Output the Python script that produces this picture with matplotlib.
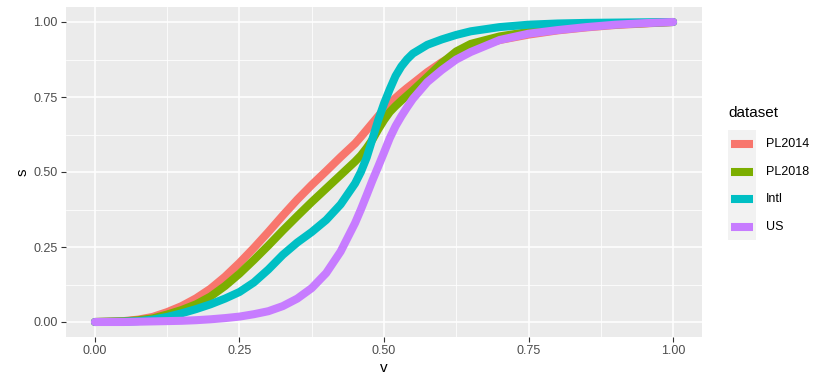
import numpy as np
import matplotlib.pyplot as plt
from matplotlib.lines import Line2D
from matplotlib.patches import Rectangle

plt.rcParams['font.family'] = ['Liberation Sans', 'DejaVu Sans']

# values
v = [0, 0.05, 0.075, 0.1, 0.125, 0.15, 0.175, 0.2, 0.225, 0.25, 0.275, 0.3,
     0.325, 0.35, 0.375, 0.4, 0.425, 0.45, 0.46, 0.47, 0.48, 0.49, 0.5, 0.51,
     0.52, 0.53, 0.54, 0.55, 0.575, 0.6, 0.625, 0.65, 0.7, 0.75, 0.8, 0.85,
     0.9, 0.95, 1.0]

pl2014 = [0, 0.003, 0.008, 0.017, 0.033, 0.053, 0.079, 0.111, 0.151, 0.197, 0.247, 0.30,
          0.355, 0.408, 0.457, 0.503, 0.55, 0.595, 0.617, 0.64, 0.663, 0.686, 0.708, 0.728,
          0.747, 0.764, 0.78, 0.795, 0.833, 0.866, 0.893, 0.913, 0.94, 0.958, 0.972, 0.982,
          0.99, 0.995, 1.0]
pl2018 = [0, 0.002, 0.006, 0.012, 0.025, 0.04, 0.059, 0.085, 0.12, 0.161, 0.207, 0.255,
          0.305, 0.353, 0.40, 0.445, 0.49, 0.535, 0.555, 0.58, 0.608, 0.642, 0.673, 0.70,
          0.72, 0.738, 0.755, 0.772, 0.817, 0.863, 0.902, 0.927, 0.952, 0.967, 0.978, 0.986,
          0.992, 0.996, 1.0]
intl = [0, 0.001, 0.003, 0.008, 0.017, 0.029, 0.043, 0.059, 0.078, 0.10, 0.132, 0.175,
        0.224, 0.265, 0.30, 0.34, 0.392, 0.462, 0.50, 0.548, 0.61, 0.673, 0.728, 0.776,
        0.82, 0.852, 0.876, 0.895, 0.924, 0.942, 0.957, 0.969, 0.983, 0.991, 0.995, 0.997,
        0.998, 0.999, 1.0]
us = [0, 0.0, 0.001, 0.002, 0.003, 0.004, 0.006, 0.009, 0.013, 0.018, 0.026, 0.036,
      0.053, 0.078, 0.113, 0.163, 0.235, 0.33, 0.375, 0.423, 0.472, 0.518, 0.565, 0.613,
      0.653, 0.686, 0.716, 0.744, 0.80, 0.84, 0.875, 0.90, 0.94, 0.961, 0.973, 0.983,
      0.991, 0.996, 1.0]

names = ['PL2014', 'PL2018', 'Intl', 'US']
series = [pl2014, pl2018, intl, us]
colors = ['#F8766D', '#7CAE00', '#00BFC4', '#C77CFF']
ticks = [0, 0.25, 0.5, 0.75, 1.0]
tick_labels = ['0.00', '0.25', '0.50', '0.75', '1.00']

fig = plt.figure(figsize=(8.3, 3.88), dpi=100)
ax = fig.add_axes([66/830, 1 - 337/388, 636/830, 330/388])
ax.set_facecolor('#EBEBEB')

for ys, c in zip(series, colors):
    ax.plot(v, ys, color=c, lw=5.8, solid_capstyle='round', solid_joinstyle='round')

ax.set_xlim(-0.05, 1.05)
ax.set_ylim(-0.05, 1.05)
ax.set_xticks(ticks)
ax.set_xticklabels(tick_labels)
ax.set_yticks(ticks)
ax.set_yticklabels(tick_labels)
ax.set_xticks([0.125, 0.375, 0.625, 0.875], minor=True)
ax.set_yticks([0.125, 0.375, 0.625, 0.875], minor=True)
ax.grid(which='major', color='white', lw=1.1)
ax.grid(which='minor', color='white', lw=0.55)
ax.set_axisbelow(True)
for sp in ax.spines.values():
    sp.set_visible(False)
ax.tick_params(which='major', length=3.5, width=0.8, color='#333333',
               labelsize=9, labelcolor='#4D4D4D', pad=2.5)
ax.tick_params(which='minor', length=0)
ax.set_xlabel('v', fontsize=11, labelpad=3)
ax.set_ylabel('s', fontsize=11, labelpad=3)

# legend drawn on the figure, ggplot style
fig.text(728/830, 1 - 113/388, 'dataset', fontsize=11, va='center', ha='left')
fig.add_artist(Rectangle((728/830, 1 - 240/388), 28/830, 110/388,
                         transform=fig.transFigure, facecolor='#F2F2F2',
                         edgecolor='none'))
for i, (name, c) in enumerate(zip(names, colors)):
    yk = 1 - (144 + i * 27.7) / 388
    fig.add_artist(Line2D([731/830, 753/830], [yk, yk], transform=fig.transFigure,
                          color=c, lw=5.8, solid_capstyle='butt'))
    fig.text(766/830, yk, name, fontsize=9, va='center', ha='left')

fig.savefig('out.png', dpi=100)
